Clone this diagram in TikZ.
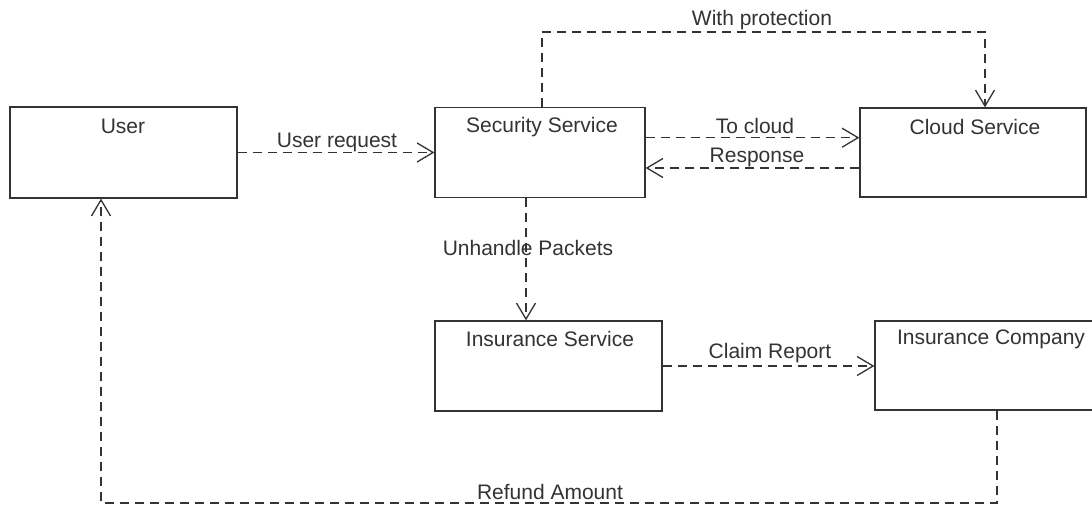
\documentclass[tikz,border=0pt]{standalone}
\usepackage{fontspec}
\setmainfont{Liberation Sans}
\usetikzlibrary{arrows.meta}
\definecolor{ink}{HTML}{333333}
\tikzset{
  box/.style={draw=ink, line width=1.3pt, rectangle, inner sep=0pt},
  boxtext/.style={text=ink, font=\fontsize{21}{25}\selectfont, inner sep=0pt, anchor=center},
  lbl/.style={text=ink, font=\fontsize{21}{25}\selectfont, inner sep=0pt, anchor=center},
  conn/.style={draw=ink, line width=1.3pt, dash pattern=on 9pt off 6pt,
    -{Straight Barb[length=16pt,width=19pt,line width=1.3pt]}},
}
\begin{document}
\begin{tikzpicture}[x=1pt,y=-1pt]
\clip (0,0) rectangle (1092,505);
\fill[white] (0,0) rectangle (1092,505);
% boxes (top-left corner, size)
\node[box, minimum width=227pt, minimum height=91pt] (user) at (123.5,152.5) {};
\node[box, minimum width=210pt, minimum height=90pt] (sec) at (540,152.5) {};
\node[box, minimum width=226pt, minimum height=89pt] (cloud) at (973,152.5) {};
\node[box, minimum width=227pt, minimum height=90pt] (ins) at (548.5,366) {};
\node[box, minimum width=232pt, minimum height=89pt] (comp) at (991,365.5) {};
% box titles
\node[boxtext] (userT) at (123,126) {User};
\node[boxtext] (secT) at (542,127) {Security Service};
\node[boxtext] (cloudT) at (975,127) {Cloud Service};
\node[boxtext] (insT) at (550,339) {Insurance Service};
\node[boxtext] (compT) at (991,339) {Insurance Company};
% bend points
\coordinate (p1) at (542,32);
\coordinate (p2) at (985,32);
\coordinate (p3) at (526,200);
\coordinate (p4) at (997,503);
\coordinate (p5) at (101,503);
% connectors
\draw[conn] (user.east) -- (sec.west);
\draw[conn] (sec.east |- 0,137.7) -- (cloud.west |- 0,137.7);
\draw[conn] (cloud.west |- 0,168) -- (sec.east |- 0,168);
\draw[conn] (p1 |- sec.north) -- (p1) -| (p2 |- cloud.north);
\draw[conn] (p3 |- sec.south) -- (p3 |- ins.north);
\draw[conn] (ins.east |- 0,366) -- (comp.west |- 0,366);
\draw[conn] (p4 |- comp.south) -- (p4) -- (p5) -- (p5 |- user.south);
% labels
\node[lbl] (l1) at (337,142) {User request};
\node[lbl] (l2) at (755,126) {To cloud};
\node[lbl] (l3) at (757,157) {Response};
\node[lbl] (l4) at (762,20) {With protection};
\node[lbl] (l5) at (528,248) {Unhandle Packets};
\node[lbl] (l6) at (770,353) {Claim Report};
\node[lbl] (l7) at (550,492) {Refund Amount};
\end{tikzpicture}
\end{document}
